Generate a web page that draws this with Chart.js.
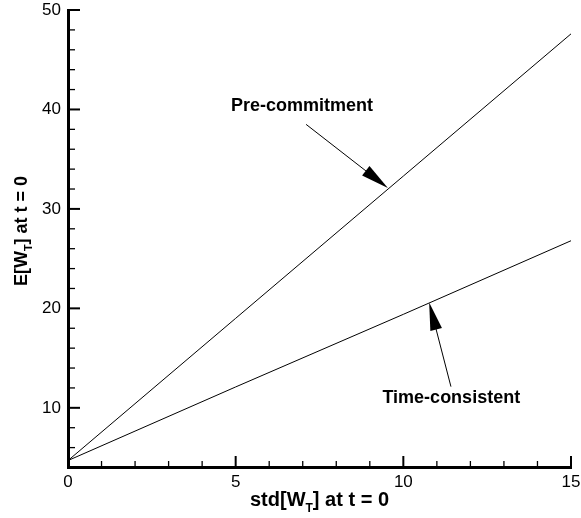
<!DOCTYPE html>
<html>
<head>
<meta charset="utf-8">
<script src="https://cdn.jsdelivr.net/npm/chart.js@4.4.1/dist/chart.umd.min.js"></script>
<style>
  html, body { margin: 0; padding: 0; background: #fff; }
  #wrap { width: 581px; height: 518px; position: relative; }
</style>
</head>
<body>
<div id="wrap"><canvas id="chart"></canvas></div>
<script>
// data
const stdValues = [0, 5, 10, 15];
const preCommitment = [4.7, 19.0, 33.3, 47.6];
const timeConsistent = [4.7, 12.1, 19.4, 26.8];
const yTickValues = [10, 20, 30, 40, 50];
const xTickValues = [0, 5, 10, 15];

// labels with arrows (data coords)
const notes = [
    { text: 'Pre-commitment', tx: 6.98, ty: 40.36, from: [7.1, 38.5], to: [9.54, 32.1] },
    { text: 'Time-consistent', tx: 11.43, ty: 11.0, from: [11.42, 12.13], to: [10.77, 20.6] }
];

const FONT = '"Liberation Sans", Arial, Helvetica, sans-serif';

function drawArrow(ctx, x1, y1, x2, y2) {
    const ang = Math.atan2(y2 - y1, x2 - x1);
    const len = 28, half = 6;
    ctx.beginPath();
    ctx.moveTo(x1, y1);
    ctx.lineTo(x2 - Math.cos(ang) * len * 0.8, y2 - Math.sin(ang) * len * 0.8);
    ctx.lineWidth = 1;
    ctx.strokeStyle = '#000';
    ctx.stroke();
    const bx = x2 - Math.cos(ang) * len, by = y2 - Math.sin(ang) * len;
    ctx.beginPath();
    ctx.moveTo(x2, y2);
    ctx.lineTo(bx + Math.sin(ang) * half, by - Math.cos(ang) * half);
    ctx.lineTo(bx - Math.sin(ang) * half, by + Math.cos(ang) * half);
    ctx.closePath();
    ctx.fillStyle = '#000';
    ctx.fill();
}

// text with subscript T, e.g. "std[W" + "T" + "] at t = 0"
function drawSubText(ctx, parts, size, x, y) {
    ctx.textBaseline = 'alphabetic';
    ctx.textAlign = 'left';
    const big = 'bold ' + size + 'px ' + FONT;
    const small = 'bold ' + Math.round(size * 0.62) + 'px ' + FONT;
    ctx.font = big;
    const w1 = ctx.measureText(parts[0]).width;
    const w3 = ctx.measureText(parts[2]).width;
    ctx.font = small;
    const w2 = ctx.measureText(parts[1]).width;
    let sx = x - (w1 + w2 + w3) / 2;
    ctx.font = big;
    ctx.fillText(parts[0], sx, y);
    ctx.font = small;
    ctx.fillText(parts[1], sx + w1, y + size * 0.3);
    ctx.font = big;
    ctx.fillText(parts[2], sx + w1 + w2, y);
}

const decor = {
    id: 'decor',
    afterDraw(chart) {
        const ctx = chart.ctx;
        const xs = chart.scales.x, ys = chart.scales.y;
        const area = chart.chartArea;
        ctx.save();
        ctx.strokeStyle = '#000';
        // x ticks, pointing inward
        for (let v = 0; v <= 15; v++) {
            const px = xs.getPixelForValue(v);
            const major = v % 5 === 0;
            ctx.lineWidth = major ? 2 : 1.3;
            ctx.beginPath();
            ctx.moveTo(px, area.bottom);
            ctx.lineTo(px, area.bottom - (major ? 11 : 6));
            ctx.stroke();
        }
        // y ticks
        for (let v = 6; v <= 50; v += 2) {
            const py = ys.getPixelForValue(v);
            const major = v % 10 === 0;
            ctx.lineWidth = major ? 2 : 1.3;
            ctx.beginPath();
            ctx.moveTo(area.left, py);
            ctx.lineTo(area.left + (major ? 12 : 7), py);
            ctx.stroke();
        }
        // annotations
        ctx.fillStyle = '#000';
        notes.forEach(n => {
            ctx.font = 'bold 18px ' + FONT;
            ctx.textAlign = 'center';
            ctx.textBaseline = 'middle';
            ctx.fillText(n.text, xs.getPixelForValue(n.tx), ys.getPixelForValue(n.ty));
            drawArrow(ctx,
                xs.getPixelForValue(n.from[0]), ys.getPixelForValue(n.from[1]),
                xs.getPixelForValue(n.to[0]), ys.getPixelForValue(n.to[1]));
        });
        // axis titles
        drawSubText(ctx, ['std[W', 'T', '] at t = 0'], 20, (area.left + area.right) / 2, 506);
        ctx.translate(27, 231);
        ctx.rotate(-Math.PI / 2);
        drawSubText(ctx, ['E[W', 'T', '] at t = 0'], 18, 0, 0);
        ctx.restore();
    }
};

new Chart(document.getElementById('chart'), {
    type: 'line',
    data: {
        labels: stdValues,
        datasets: [
            {
                label: 'Pre-commitment',
                data: stdValues.map((x, i) => ({ x: x, y: preCommitment[i] })),
                borderColor: '#000',
                borderWidth: 1,
                pointRadius: 0,
                fill: false,
                tension: 0
            },
            {
                label: 'Time-consistent',
                data: stdValues.map((x, i) => ({ x: x, y: timeConsistent[i] })),
                borderColor: '#000',
                borderWidth: 1,
                pointRadius: 0,
                fill: false,
                tension: 0
            }
        ]
    },
    options: {
        responsive: true,
        maintainAspectRatio: false,
        animation: false,
        layout: { padding: { left: 0, right: 10, top: 10, bottom: 0 } },
        plugins: { legend: { display: false }, tooltip: { enabled: false } },
        scales: {
            x: {
                type: 'linear',
                min: 0,
                max: 15,
                afterBuildTicks: s => { s.ticks = xTickValues.map(v => ({ value: v })); },
                afterFit: s => { s.height = 51; s.paddingLeft = 0; s.paddingRight = 0; },
                grid: { display: false, drawTicks: false },
                border: { display: true, color: '#000', width: 3 },
                ticks: { color: '#000', font: { family: FONT, size: 17 }, padding: 5, maxRotation: 0 }
            },
            y: {
                type: 'linear',
                min: 4.05,
                max: 50,
                afterBuildTicks: s => { s.ticks = yTickValues.map(v => ({ value: v })); },
                afterFit: s => { s.width = 68; s.paddingTop = 0; s.paddingBottom = 0; },
                grid: { display: false, drawTicks: false },
                border: { display: true, color: '#000', width: 3 },
                ticks: { color: '#000', font: { family: FONT, size: 17 }, padding: 7 }
            }
        }
    },
    plugins: [decor]
});
</script>
</body>
</html>
